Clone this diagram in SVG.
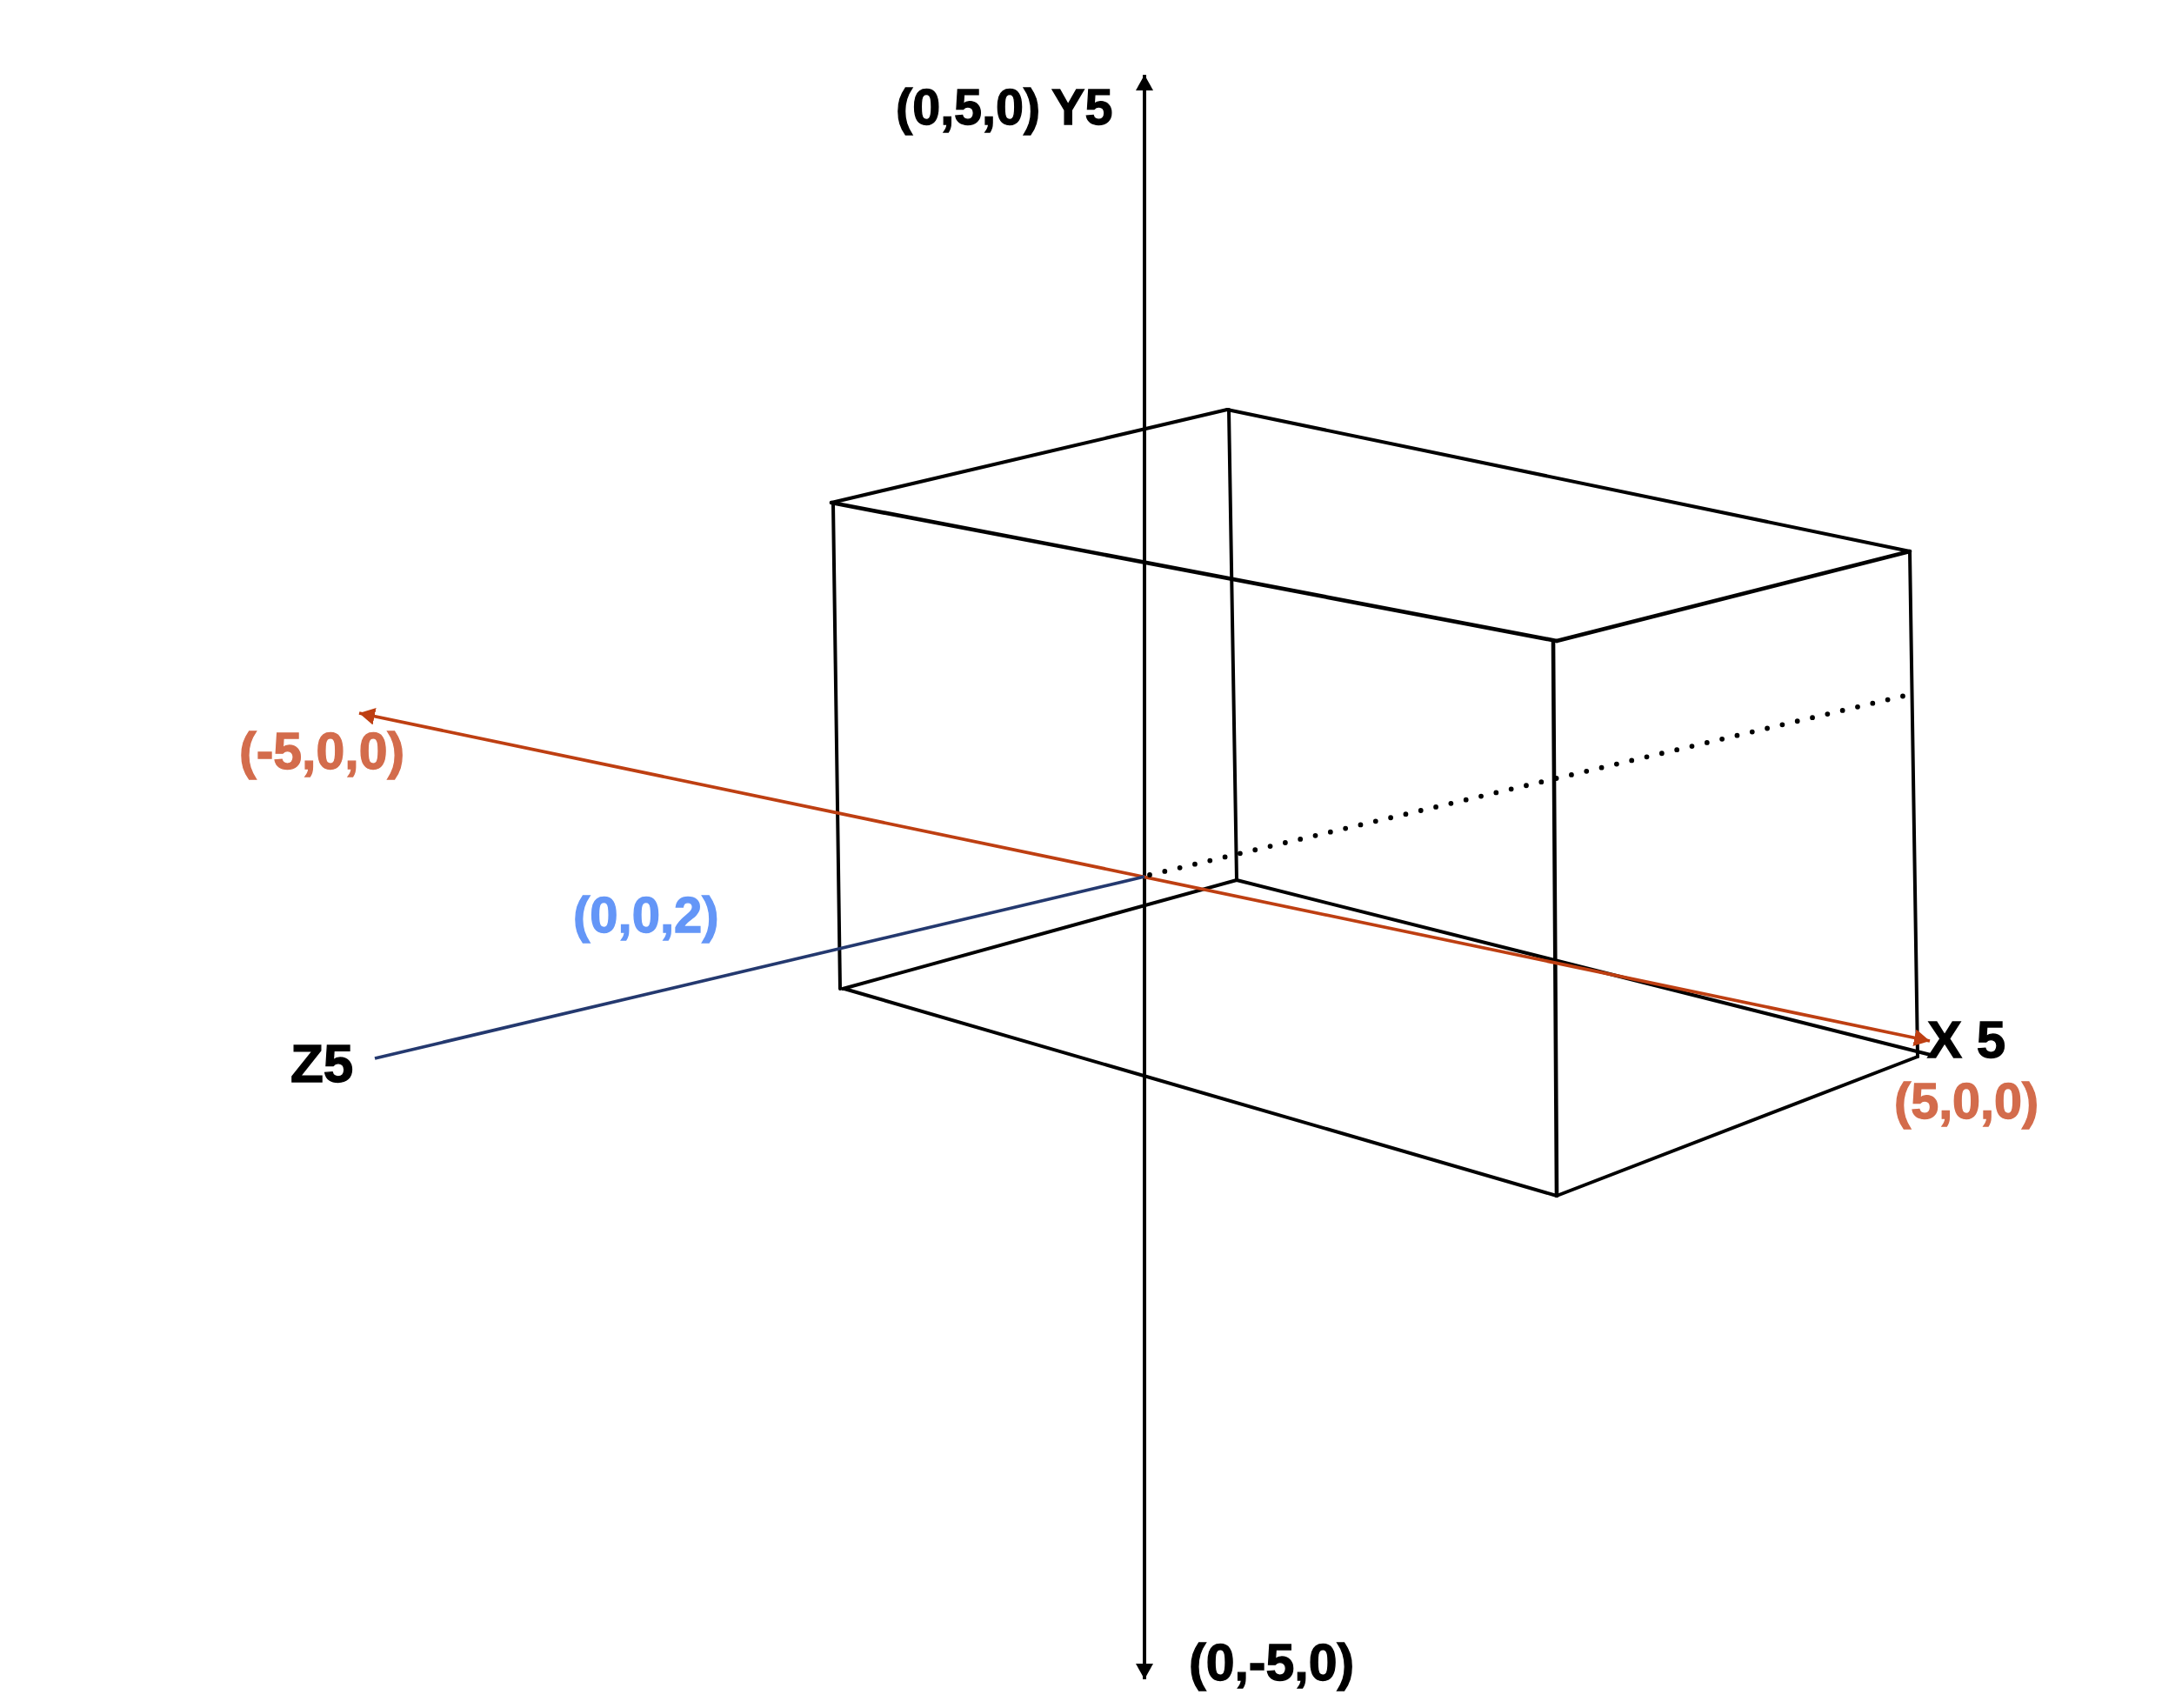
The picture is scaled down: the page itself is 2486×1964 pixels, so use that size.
<svg xmlns="http://www.w3.org/2000/svg" width="2486" height="1964" viewBox="0 0 2486 1964">
<style>
text{font-family:"Liberation Sans",Arial,sans-serif;font-weight:700;font-size:58px;fill:#000;stroke:#000;stroke-width:1.3}
.o{fill:#d36c4c;stroke:#d36c4c}
.b{fill:#6496f7;stroke:#6496f7}
line{stroke-linecap:round;fill:none}
.k{stroke:#000;stroke-width:4}
.t{stroke:#000;stroke-width:4.6}
.y{stroke:#000;stroke-width:4;stroke-linecap:butt}
.r{stroke:#be3f12;stroke-width:3.8;stroke-linecap:butt}
.z{stroke:#24396f;stroke-width:3.8;stroke-linecap:butt}
.d{stroke:#000;stroke-width:5.8;stroke-dasharray:0 17.8}
</style>
<defs>
<marker id="ak" viewBox="0 0 18 20" refX="18" refY="10" markerWidth="18" markerHeight="20" markerUnits="userSpaceOnUse" orient="auto-start-reverse"><path d="M0 0L18 10L0 20Z" fill="#000"/></marker>
<marker id="ar" viewBox="0 0 18 20" refX="18" refY="10" markerWidth="18" markerHeight="20" markerUnits="userSpaceOnUse" orient="auto-start-reverse"><path d="M0 0L18 10L0 20Z" fill="#be3f12"/></marker>
</defs>
<g id="box">
<line class="k" x1="956" y1="578" x2="1411" y2="471"/>
<line class="k" x1="1411" y1="471" x2="2196" y2="634"/>
<line class="t" x1="956" y1="578" x2="1790" y2="737"/>
<line class="t" x1="1790" y1="737" x2="2196" y2="634"/>
<line class="k" x1="958" y1="579" x2="966" y2="1137"/>
<line class="k" x1="1413" y1="471" x2="1422" y2="1012"/>
<line class="t" x1="1786" y1="737" x2="1790" y2="1375"/>
<line class="k" x1="2196" y1="634" x2="2205" y2="1215"/>
<line class="k" x1="969" y1="1137" x2="1422" y2="1012"/>
<line class="k" x1="1422" y1="1012" x2="2220" y2="1213"/>
<line class="k" x1="971" y1="1137" x2="1790" y2="1375"/>
<line class="k" x1="1790" y1="1375" x2="2205" y2="1215"/>
</g>
<g id="connectors">
<line class="y" x1="1316" y1="86" x2="1316" y2="1931" marker-start="url(#ak)" marker-end="url(#ak)"/>
<line class="r" x1="413" y1="820" x2="2219" y2="1197" marker-start="url(#ar)" marker-end="url(#ar)"/>
<line class="z" x1="431" y1="1217" x2="1316" y2="1008"/>
<line class="d" x1="1322" y1="1006" x2="2190" y2="800"/>
</g>
<g id="label-y-top"><text x="1030" y="143" style="font-size:57.5px;word-spacing:-2px">(0,5,0) Y5</text></g>
<g id="label-y-bottom"><text x="1367" y="1932" style="font-size:59px">(0,-5,0)</text></g>
<g id="label-x"><text x="2216" y="1216" style="font-size:60px">X 5</text></g>
<g id="label-x-pos"><text class="o" x="2178" y="1286" style="font-size:57.5px">(5,0,0)</text></g>
<g id="label-x-neg"><text class="o" x="275" y="884" style="font-size:59px">(-5,0,0)</text></g>
<g id="label-z"><text x="334" y="1244" style="font-size:62px">Z5</text></g>
<g id="label-z-val"><text class="b" x="659" y="1072" style="font-size:58px">(0,0,2)</text></g>
</svg>
